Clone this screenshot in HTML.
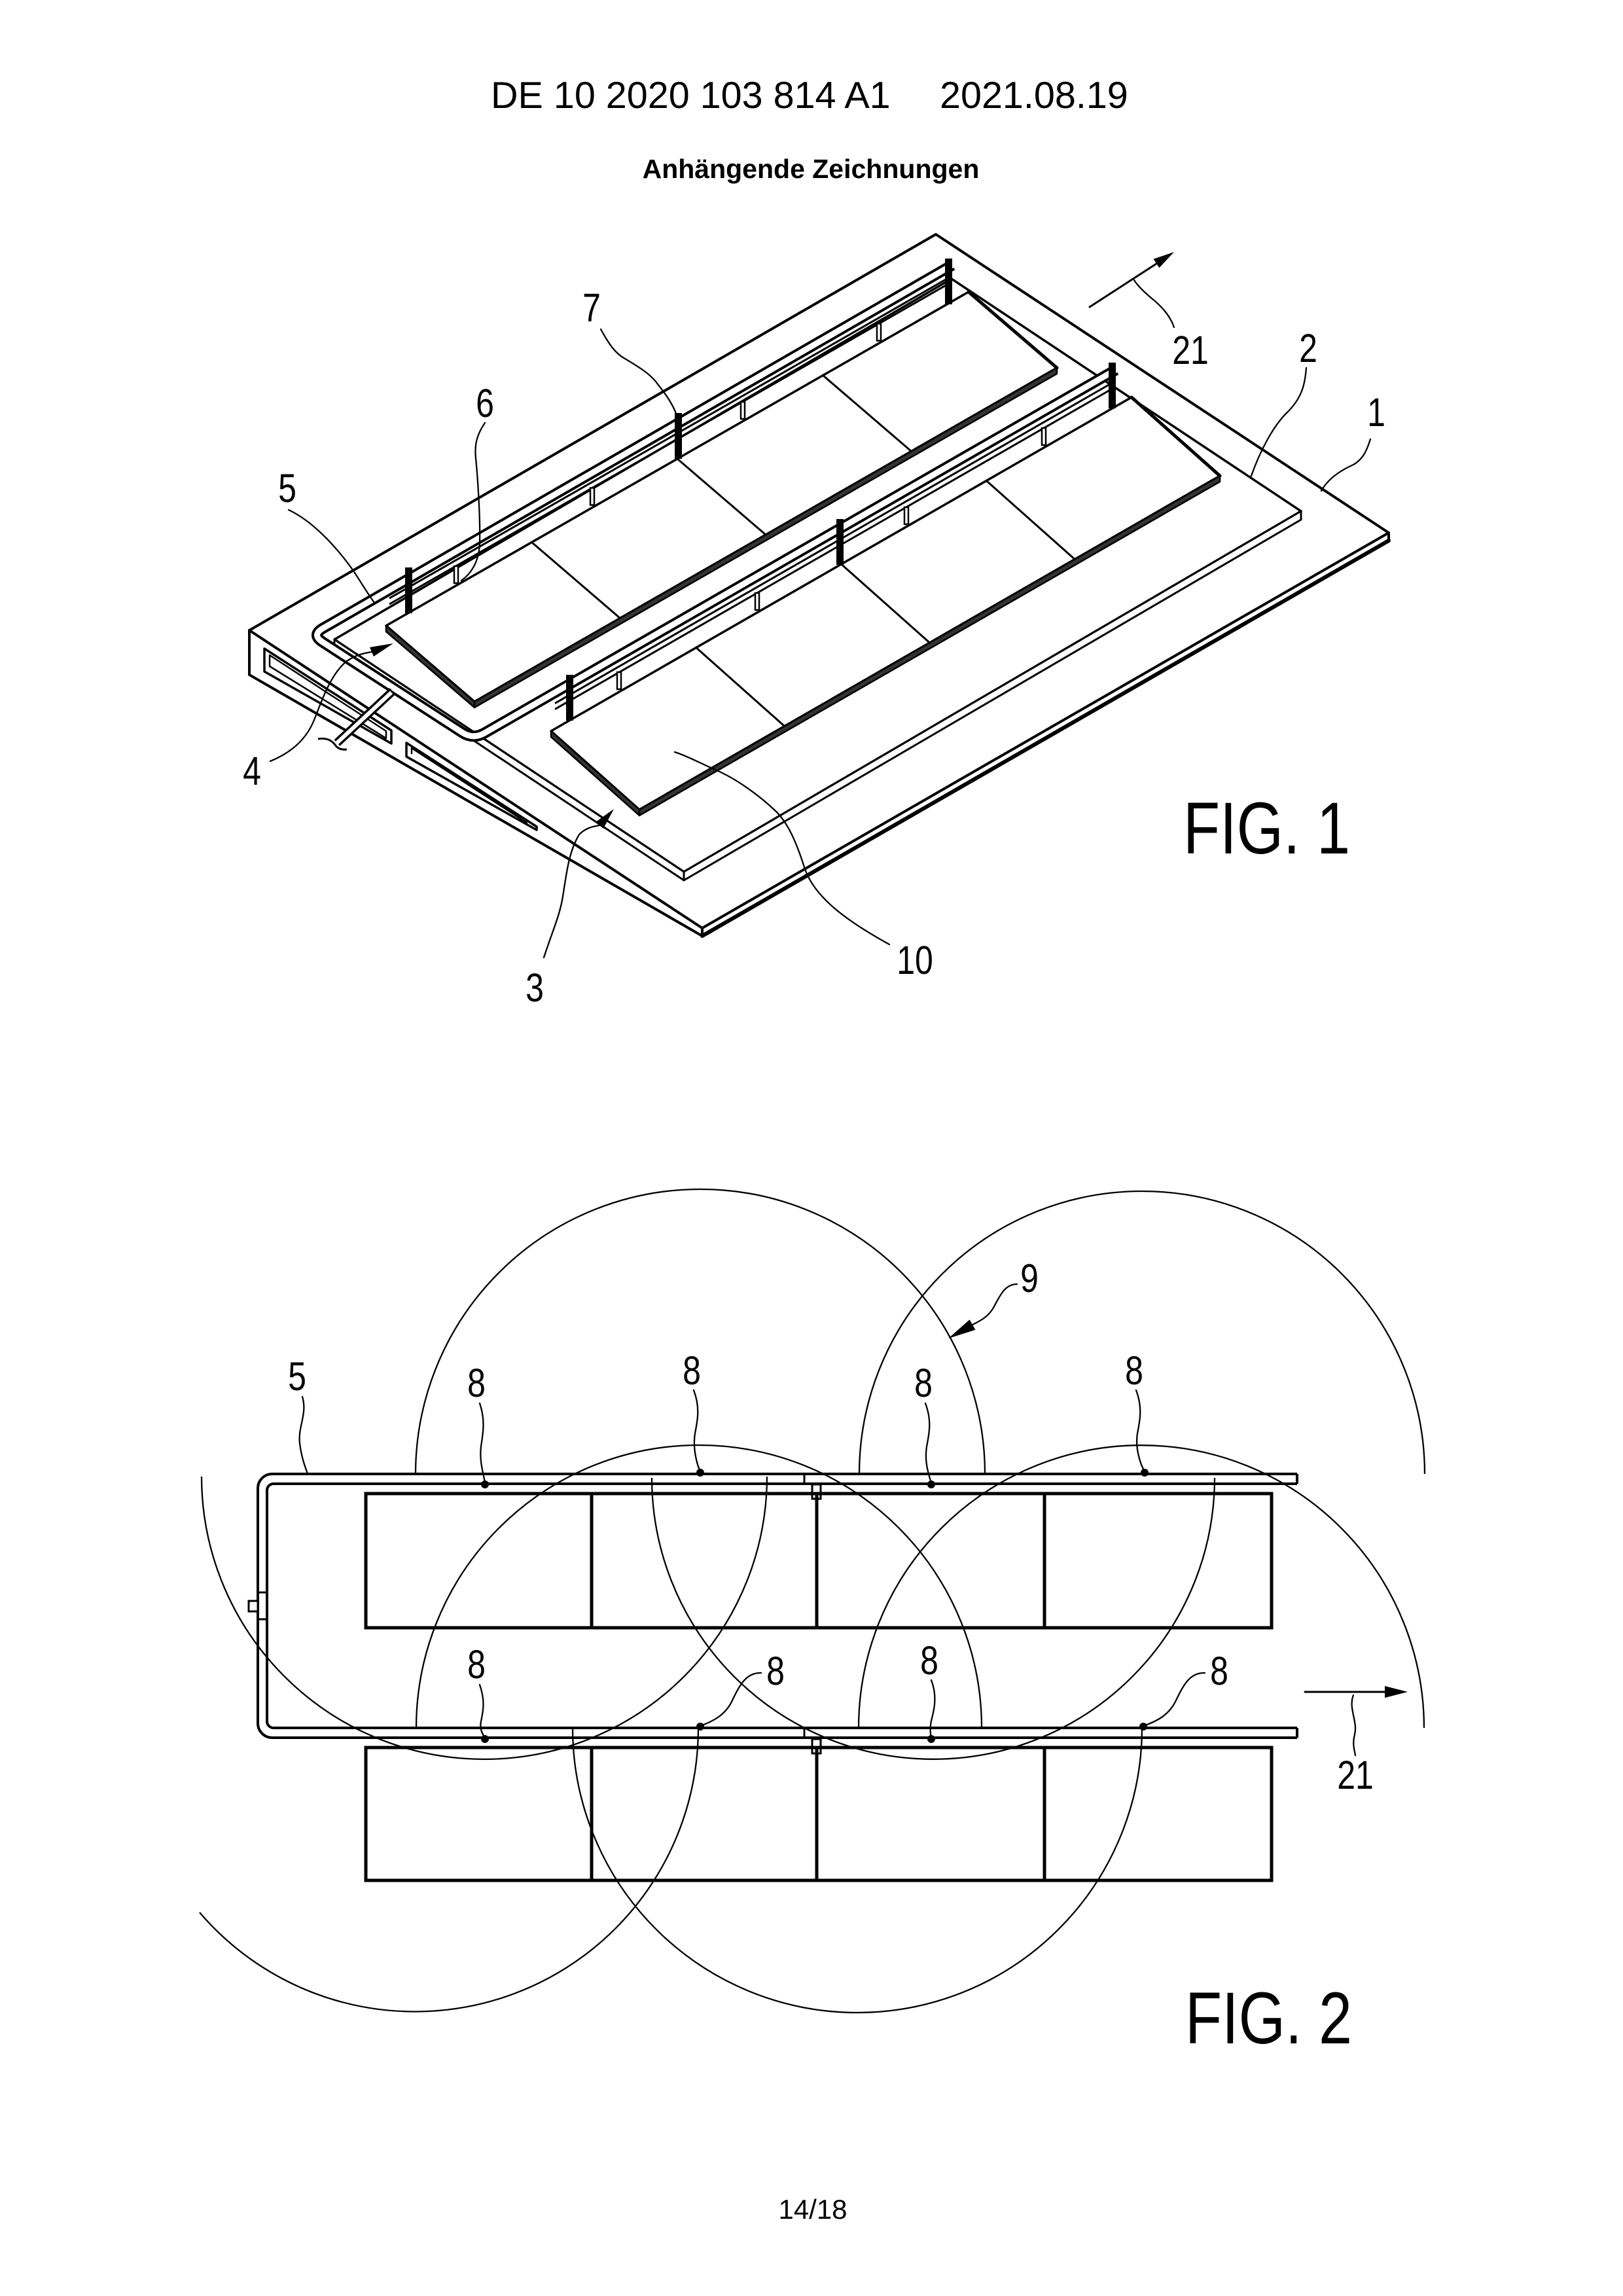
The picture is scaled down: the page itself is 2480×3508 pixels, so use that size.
<!DOCTYPE html>
<html>
<head>
<meta charset="utf-8">
<style>
  html, body { margin: 0; padding: 0; background: #ffffff; }
  body { width: 2480px; height: 3508px; overflow: hidden; }
  svg { display: block; }
  text { font-family: "Liberation Sans", Arial, sans-serif; fill: #000; }
  .lbl { font-size: 61px; }
  .fig { font-size: 112px; }
</style>
</head>
<body>
<svg width="2480" height="3508" viewBox="0 0 2480 3508" xmlns="http://www.w3.org/2000/svg">
  <rect x="0" y="0" width="2480" height="3508" fill="#ffffff"/>

  <!-- Header -->
  <text x="750" y="165" style="font-size:57.5px">DE 10 2020 103 814 A1</text>
  <text x="1436" y="165" style="font-size:57.5px">2021.08.19</text>
  <text x="1239" y="272" text-anchor="middle" style="font-size:41px;font-weight:bold">Anhängende Zeichnungen</text>

  <!-- ================= FIG. 1 ================= -->
  <g fill="none" stroke="#000" stroke-linejoin="round" stroke-linecap="round">
    <!-- Base plate 1 -->
    <polygon points="381,963 1430,358 2122,814 1073,1418" fill="#fff" stroke-width="4"/>
    <polyline points="381,963 381,1031 1073,1430" stroke-width="4"/>
    <line x1="2122" y1="814" x2="2122" y2="826" stroke-width="4"/>
    <line x1="2122" y1="826" x2="1073" y2="1430" stroke-width="6"/>
    <line x1="1073" y1="1418" x2="1073" y2="1430" stroke-width="4"/>
    <!-- openings in wedge face -->
    <polygon points="404,991 598,1116 598,1136 404,1026" stroke-width="3.5"/>
    <polygon points="412,1001 590,1117 590,1128 412,1018" stroke-width="2.5"/>
    <polygon points="621,1135 820,1263 820,1268 621,1156" stroke-width="3.5"/>
    <polyline points="629,1151 629,1143 805,1257" stroke-width="2.5"/>

    <!-- Plate 2 -->
    <polygon points="511,977 1045,1332 1988,781 1454,426" fill="#fff" stroke-width="3.5"/>
    <polygon points="511,977 1045,1332 1045,1345 511,990" fill="#fff" stroke-width="3"/>
    <polygon points="1045,1332 1988,781 1988,794 1045,1345" fill="#fff" stroke-width="3"/>
  </g>

  <g fill="none" stroke="#000" stroke-linejoin="round" stroke-linecap="butt">
    <!-- Tube 5 (double line) -->
    <path d="M1455,405 L493.3,960 Q476,970 492.8,980.9 L706.2,1119.1 Q723,1130 740.3,1120 L1705,565" stroke-width="17"/>
    <path d="M1455,405 L493.3,960 Q476,970 492.8,980.9 L706.2,1119.1 Q723,1130 740.3,1120 L1705,565" stroke="#fff" stroke-width="9"/>
    <!-- inlet stub -->
    <line x1="600" y1="1056" x2="515" y2="1135" stroke-width="13"/>
    <line x1="598" y1="1058" x2="515" y2="1135" stroke="#fff" stroke-width="6"/>
    <path d="M486,1129 C498,1127 506,1130 512,1138 C516,1144 522,1146 530,1145" stroke-width="3"/>

    <!-- Rails row 1 -->
    <line x1="595" y1="914.1" x2="1452" y2="423.1" stroke-width="3"/>
    <line x1="595" y1="923.1" x2="1452" y2="432.1" stroke-width="3"/>
    <!-- Rails row 2 -->
    <line x1="848" y1="1074.6" x2="1702" y2="583.5" stroke-width="3"/>
    <line x1="848" y1="1083.6" x2="1702" y2="592.5" stroke-width="3"/>
  </g>

  <!-- Brackets -->
  <g fill="#fff" stroke="#000" stroke-width="2.5">
    <rect x="694" y="865" width="6" height="26"/>
    <rect x="902" y="745.5" width="6" height="26"/>
    <rect x="1132" y="614" width="6" height="26"/>
    <rect x="1340" y="494.5" width="6" height="26"/>
    <rect x="943" y="1027" width="6" height="26"/>
    <rect x="1154" y="906" width="6" height="26"/>
    <rect x="1382" y="775" width="6" height="26"/>
    <rect x="1592" y="654" width="6" height="26"/>
  </g>

  <!-- Module rows -->
  <g stroke="#000" stroke-linejoin="round" stroke-linecap="round">
    <!-- Row 1 -->
    <polygon points="590,956 725,1072 1615,562 1480,446" fill="#fff" stroke-width="3.5"/>
    <polygon points="725,1072 1615,562 1615,571 725,1081" fill="#333" stroke-width="2.5"/>
    <polygon points="590,956 725,1072 725,1081 590,965" fill="#333" stroke-width="2.5"/>
    <line x1="1480" y1="446" x2="1615" y2="562" stroke-width="5"/>
    <line x1="812.5" y1="828.5" x2="947.5" y2="944.5" stroke-width="3"/>
    <line x1="1035" y1="701" x2="1170" y2="817" stroke-width="3"/>
    <line x1="1257.5" y1="573.5" x2="1392.5" y2="689.5" stroke-width="3"/>
    <!-- Row 2 -->
    <polygon points="842,1117 977,1237 1864,727 1729,607" fill="#fff" stroke-width="3.5"/>
    <polygon points="977,1237 1864,727 1864,736 977,1246" fill="#333" stroke-width="2.5"/>
    <polygon points="842,1117 977,1237 977,1246 842,1126" fill="#333" stroke-width="2.5"/>
    <line x1="1729" y1="607" x2="1864" y2="727" stroke-width="5"/>
    <line x1="1063.75" y1="989.5" x2="1198.75" y2="1109.5" stroke-width="3"/>
    <line x1="1285.5" y1="862" x2="1420.5" y2="982" stroke-width="3"/>
    <line x1="1507.25" y1="734.5" x2="1642.25" y2="854.5" stroke-width="3"/>
  </g>

  <!-- Posts 7 -->
  <g fill="#000">
    <rect x="619" y="867" width="11" height="70"/>
    <rect x="1031" y="631" width="11" height="70"/>
    <rect x="1444" y="395" width="11" height="70"/>
    <rect x="865" y="1031" width="11" height="70"/>
    <rect x="1278" y="793" width="11" height="70"/>
    <rect x="1694" y="554" width="11" height="70"/>
  </g>

  <!-- FIG 1 leaders and arrows -->
  <g fill="none" stroke="#000" stroke-width="2.3" stroke-linecap="round">
    <path d="M441,779 C475,795 510,830 540,872 C555,895 565,912 573,922"/>
    <path d="M741,646 C728,665 725,680 727,700 C730,730 734,790 733,830 C732,860 718,878 705,887"/>
    <path d="M918,503 C930,525 940,540 955,548 C975,560 995,572 1005,587 C1018,603 1028,618 1033,632"/>
    <path d="M1794,500 C1788,482 1775,468 1760,456 C1748,446 1738,436 1733,428"/>
    <line x1="1665" y1="469" x2="1770" y2="401" stroke-width="3"/>
    <path d="M1996,562 C1994,590 1988,610 1965,632 C1945,652 1925,690 1912,727"/>
    <path d="M2094,671 C2088,690 2082,702 2068,710 C2050,718 2030,730 2019,750"/>
    <path d="M413,1163 C445,1150 468,1130 480,1100 C492,1070 505,1030 530,1010 C545,1000 556,998 568,996"/>
    <path d="M831,1463 C845,1420 855,1400 860,1370 C866,1330 870,1300 885,1275 C895,1265 905,1263 916,1261"/>
    <path d="M1359,1443 C1290,1405 1245,1370 1230,1328 C1218,1290 1205,1258 1185,1239 C1160,1215 1125,1190 1095,1177 C1070,1166 1050,1155 1031,1149"/>
  </g>
  <g fill="#000">
    <polygon points="1794,385 1771.4,409.2 1762.6,395.8"/>
    <polygon points="601,983 571,1003 565,989"/>
    <polygon points="938,1236 922,1266 910,1256"/>
  </g>

  <!-- FIG 1 labels -->
  <g class="lbl" text-anchor="middle">
    <text transform="translate(439,767) scale(0.82,1)">5</text>
    <text transform="translate(741,637) scale(0.82,1)">6</text>
    <text transform="translate(904,491) scale(0.82,1)">7</text>
    <text transform="translate(1819,556) scale(0.82,1)">21</text>
    <text transform="translate(1999,553) scale(0.82,1)">2</text>
    <text transform="translate(2103,651) scale(0.82,1)">1</text>
    <text transform="translate(385,1199) scale(0.82,1)">4</text>
    <text transform="translate(817,1530) scale(0.82,1)">3</text>
    <text transform="translate(1398,1488) scale(0.82,1)">10</text>
  </g>
  <text class="fig" transform="translate(1808,1304) scale(0.82,1)">FIG. 1</text>

  <!-- ================= FIG. 2 ================= -->
  <!-- Circles / arcs -->
  <g fill="none" stroke="#000" stroke-width="2.3">
    <path d="M635,2252 A435,435 0 0 1 1505,2252"/>
    <path d="M1313,2252 A432,432 0 0 1 2177,2252"/>
    <path d="M308,2256 A432,432 0 0 0 1172,2256"/>
    <path d="M996,2258 A430,430 0 0 0 1856,2258"/>
    <path d="M636,2640 A432,432 0 0 1 1500,2640"/>
    <path d="M1312,2640 A432,432 0 0 1 2176,2640"/>
    <path d="M305,2922 A433,433 0 0 0 1067,2640"/>
    <path d="M875,2640 A435,435 0 0 0 1745,2640"/>
  </g>

  <!-- U tube / rails -->
  <g fill="none" stroke="#000" stroke-width="4">
    <path d="M1982,2252 H416 A22,22 0 0 0 394,2274 V2633 A22,22 0 0 0 416,2655 H1982"/>
    <path d="M1982,2267 H418 A10,10 0 0 0 408,2277 V2630 A10,10 0 0 0 418,2640 H1982"/>
    <line x1="1982" y1="2252" x2="1982" y2="2267"/>
    <line x1="1982" y1="2640" x2="1982" y2="2655"/>
  </g>
  <g fill="#fff" stroke="#000" stroke-width="3">
    <line x1="1229" y1="2252" x2="1229" y2="2267"/>
    <line x1="1229" y1="2640" x2="1229" y2="2655"/>
    <rect x="1241" y="2268" width="13" height="22"/>
    <rect x="1241" y="2657" width="13" height="22"/>
    <line x1="394" y1="2433" x2="408" y2="2433"/>
    <line x1="394" y1="2474" x2="408" y2="2474"/>
    <rect x="380" y="2446" width="14" height="16"/>
  </g>

  <!-- Module boxes -->
  <g fill="none" stroke="#000" stroke-width="5">
    <rect x="559" y="2282" width="1384" height="205"/>
    <line x1="904" y1="2282" x2="904" y2="2487"/>
    <line x1="1248" y1="2282" x2="1248" y2="2487"/>
    <line x1="1596" y1="2282" x2="1596" y2="2487"/>
    <rect x="559" y="2670" width="1384" height="203"/>
    <line x1="904" y1="2670" x2="904" y2="2873"/>
    <line x1="1248" y1="2670" x2="1248" y2="2873"/>
    <line x1="1596" y1="2670" x2="1596" y2="2873"/>
  </g>

  <!-- Sensor dots -->
  <g fill="#000">
    <circle cx="741" cy="2268" r="6"/>
    <circle cx="1070" cy="2250" r="6"/>
    <circle cx="1423" cy="2268" r="6"/>
    <circle cx="1749" cy="2250" r="6"/>
    <circle cx="741" cy="2657" r="6"/>
    <circle cx="1070" cy="2638" r="6"/>
    <circle cx="1423" cy="2657" r="6"/>
    <circle cx="1747" cy="2638" r="6"/>
  </g>

  <!-- FIG 2 leaders -->
  <g fill="none" stroke="#000" stroke-width="2.3" stroke-linecap="round">
    <path d="M462,2134 C470,2160 455,2180 458,2205 C461,2230 468,2245 470,2252"/>
    <path d="M733,2144 C742,2170 738,2190 735,2210 C732,2235 740,2255 741,2266"/>
    <path d="M1060,2124 C1070,2150 1066,2170 1062,2190 C1058,2215 1066,2240 1070,2248"/>
    <path d="M1414,2144 C1424,2170 1420,2190 1416,2210 C1412,2235 1420,2255 1423,2266"/>
    <path d="M1736,2124 C1746,2150 1742,2170 1738,2190 C1734,2215 1744,2240 1749,2248"/>
    <path d="M733,2574 C742,2600 738,2615 735,2630 C732,2645 740,2652 741,2656"/>
    <path d="M1423,2567 C1432,2590 1428,2610 1424,2625 C1420,2640 1422,2650 1423,2656"/>
    <path d="M1163,2556 C1140,2555 1130,2575 1118,2600 C1108,2620 1090,2630 1070,2637"/>
    <path d="M1841,2556 C1818,2555 1808,2575 1796,2600 C1786,2620 1768,2630 1747,2637"/>
    <path d="M1554,1962 C1535,1962 1528,1980 1518,1998 C1510,2012 1498,2018 1486,2024"/>
    <line x1="1994" y1="2585" x2="2120" y2="2585" stroke-width="3"/>
    <path d="M2068,2590 C2060,2610 2075,2630 2070,2650 C2066,2665 2070,2675 2071,2682"/>
  </g>
  <g fill="#000">
    <polygon points="1449,2045 1490.4,2031.8 1481.6,2016.2"/>
    <polygon points="2151,2585 2116,2576 2116,2594"/>
  </g>

  <!-- FIG 2 labels -->
  <g class="lbl" text-anchor="middle">
    <text transform="translate(454,2124) scale(0.82,1)">5</text>
    <text transform="translate(728,2134) scale(0.82,1)">8</text>
    <text transform="translate(1057,2115) scale(0.82,1)">8</text>
    <text transform="translate(1411,2134) scale(0.82,1)">8</text>
    <text transform="translate(1733,2115) scale(0.82,1)">8</text>
    <text transform="translate(728,2564) scale(0.82,1)">8</text>
    <text transform="translate(1185,2574) scale(0.82,1)">8</text>
    <text transform="translate(1420,2558) scale(0.82,1)">8</text>
    <text transform="translate(1863,2574) scale(0.82,1)">8</text>
    <text transform="translate(1573,1974) scale(0.82,1)">9</text>
    <text transform="translate(2071,2733) scale(0.82,1)">21</text>
  </g>
  <text class="fig" transform="translate(1811,3122) scale(0.82,1)">FIG. 2</text>

  <!-- Page number -->
  <text x="1242" y="3390" text-anchor="middle" style="font-size:42px">14/18</text>
</svg>
</body>
</html>
